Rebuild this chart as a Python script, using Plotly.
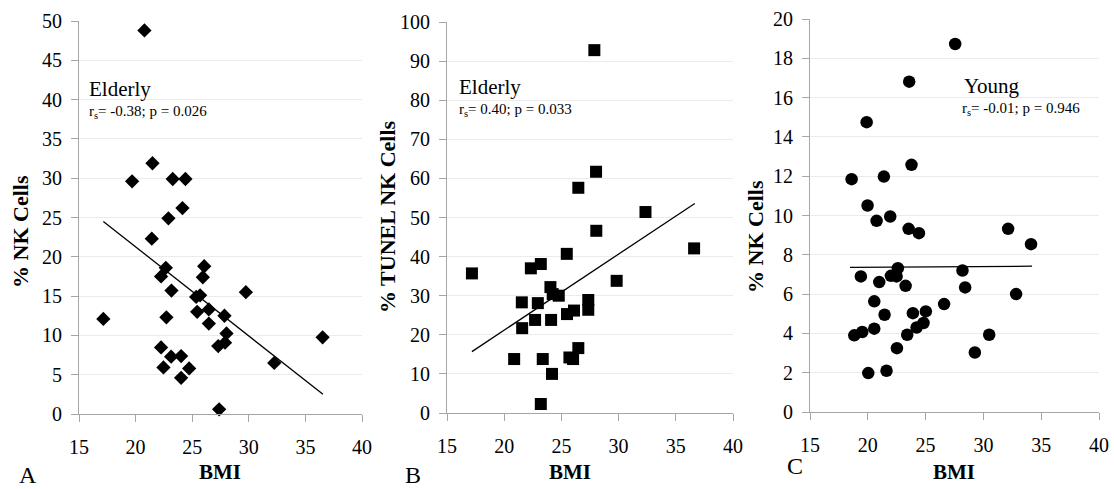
import plotly.graph_objects as go

W, H = 1114, 489

# ---------------- data ----------------
# Panel A: Elderly, % NK cells vs BMI
a_bmi = [20.78, 21.49, 19.69, 23.28, 24.40, 24.14, 22.90, 21.43, 22.67, 22.25,
         26.06, 25.94, 23.17, 29.74, 25.35, 25.70, 25.44, 26.47, 17.15, 22.72,
         27.85, 26.47, 28.03, 27.90, 27.30, 36.52, 22.25, 23.14, 24.02, 22.46,
         24.73, 24.02, 32.25, 27.38]
a_nk = [48.8, 31.9, 29.6, 29.9, 29.9, 26.2, 24.9, 22.3, 18.6, 17.5,
        18.8, 17.4, 15.7, 15.5, 14.9, 15.1, 13.0, 13.3, 12.1, 12.3,
        12.5, 11.5, 10.25, 9.07, 8.64, 9.75, 8.47, 7.29, 7.37, 5.93,
        5.8, 4.6, 6.5, 0.6]
a_trend_x = [17.15, 36.55]
a_trend_y = [24.5, 2.5]

# Panel B: Elderly, % TUNEL NK cells vs BMI
b_bmi = [27.88, 28.03, 26.48, 32.35, 28.05, 36.60, 25.47, 23.20, 22.33, 17.18,
         29.83, 24.04, 24.24, 24.77, 27.35, 21.54, 22.94, 27.35, 26.10, 25.49,
         22.70, 24.10, 21.57, 26.48, 25.70, 26.02, 20.87, 23.37, 24.18, 23.20]
b_tunel = [92.8, 61.7, 57.6, 51.4, 46.6, 42.1, 40.7, 38.1, 37.0, 35.7,
           33.8, 32.2, 30.4, 30.0, 28.9, 28.3, 28.1, 26.4, 26.2, 25.3,
           23.8, 23.8, 21.7, 16.6, 14.2, 13.8, 13.8, 13.8, 10.0, 2.3]
b_trend_x = [17.18, 36.66]
b_trend_y = [15.7, 53.6]

# Panel C: Young, % NK cells vs BMI
c_bmi = [27.56, 23.58, 19.90, 23.78, 18.60, 21.39, 19.98, 21.94, 20.76, 23.53,
         24.42, 32.14, 34.12, 22.60, 28.19, 19.40, 20.99, 22.00, 22.49, 23.27,
         28.42, 32.83, 20.56, 26.60, 25.02, 23.90, 21.45, 24.82, 24.22, 18.83,
         19.52, 20.56, 23.41, 30.50, 22.52, 29.26, 20.04, 21.62]
c_nk = [18.73, 16.81, 14.75, 12.58, 11.85, 11.98, 10.51, 9.95, 9.73, 9.32,
        9.10, 9.32, 8.54, 7.32, 7.20, 6.90, 6.61, 6.93, 6.90, 6.42,
        6.34, 6.00, 5.63, 5.49, 5.12, 5.03, 4.95, 4.53, 4.30, 3.90,
        4.07, 4.24, 3.93, 3.93, 3.25, 3.03, 1.98, 2.10]
c_trend_x = [18.46, 34.21]
c_trend_y = [7.36, 7.42]

x_ticks = [15, 20, 25, 30, 35, 40]
panel_letters = ["A", "B", "C"]
groups = ["Elderly", "Elderly", "Young"]
stats = ["r<sub>s</sub>= -0.38; p = 0.026",
         "r<sub>s</sub>= 0.40; p = 0.033",
         "r<sub>s</sub>= -0.01; p = 0.946"]
y_titles = ["% NK Cells", "% TUNEL NK Cells", "% NK Cells"]
x_title = "BMI"

# ---------------- layout helpers ----------------
FONT = "Liberation Serif"
AXIS_COLOR = "#a6a6a6"
GRID_COLOR = "#ebebeb"


def px(x):
    return x / W


def py(y):
    return 1 - y / H


fig = go.Figure()

panels = [
    dict(x=a_bmi, y=a_nk, tx=a_trend_x, ty=a_trend_y, symbol="diamond", size=11,
         xd=(79, 362), yd=(414, 21), yr=[0, 50], dt=5),
    dict(x=b_bmi, y=b_tunel, tx=b_trend_x, ty=b_trend_y, symbol="square", size=12,
         xd=(447, 733), yd=(413, 22), yr=[0, 100], dt=10),
    dict(x=c_bmi, y=c_nk, tx=c_trend_x, ty=c_trend_y, symbol="circle", size=12.5,
         xd=(810, 1099), yd=(412, 19), yr=[0, 20], dt=2),
]

for i, p in enumerate(panels):
    sfx = "" if i == 0 else str(i + 1)
    fig.add_trace(go.Scatter(
        x=p["tx"], y=p["ty"], mode="lines",
        line=dict(color="black", width=1.3),
        xaxis="x" + sfx, yaxis="y" + sfx, showlegend=False, hoverinfo="skip"))
    fig.add_trace(go.Scatter(
        x=p["x"], y=p["y"], mode="markers",
        marker=dict(symbol=p["symbol"], size=p["size"], color="black",
                    line=dict(width=0)),
        xaxis="x" + sfx, yaxis="y" + sfx, showlegend=False, cliponaxis=False))

    common = dict(showline=True, linecolor=AXIS_COLOR, linewidth=1,
                  ticks="outside", tickcolor=AXIS_COLOR, ticklen=7, tickwidth=1,
                  zeroline=False, automargin=False,
                  tickfont=dict(family=FONT, size=20, color="black"))
    fig.layout["xaxis" + sfx] = dict(
        domain=[px(p["xd"][0]), px(p["xd"][1])], range=[15, 40],
        tickvals=x_ticks, showgrid=False, anchor="y" + sfx,
        ticklabelstandoff=8, **common)
    fig.layout["yaxis" + sfx] = dict(
        domain=[py(p["yd"][0]), py(p["yd"][1])], range=p["yr"],
        dtick=p["dt"], tick0=0, showgrid=True, gridcolor=GRID_COLOR,
        gridwidth=1, anchor="x" + sfx, ticklabelstandoff=5, **common)

# ---------------- annotations ----------------
ann = []
group_pos = [(87, 89), (457, 87), (962, 86)]
stat_pos = [(87, 112), (457, 110), (960, 109)]
letter_pos = [(17, 475), (403, 475), (785, 466)]
bmi_pos = [(220, 472), (570, 472), (954, 472)]
ytitle_pos = [(20, 232), (388, 217), (755, 237)]

for i in range(3):
    ann.append(dict(text=groups[i], x=px(group_pos[i][0]), y=py(group_pos[i][1]),
                    xref="paper", yref="paper", xanchor="left", yanchor="middle",
                    showarrow=False, font=dict(family=FONT, size=21, color="black")))
    ann.append(dict(text=stats[i], x=px(stat_pos[i][0]), y=py(stat_pos[i][1]),
                    xref="paper", yref="paper", xanchor="left", yanchor="middle",
                    showarrow=False, font=dict(family=FONT, size=15, color="black")))
    ann.append(dict(text=panel_letters[i], x=px(letter_pos[i][0]), y=py(letter_pos[i][1]),
                    xref="paper", yref="paper", xanchor="left", yanchor="middle",
                    showarrow=False, font=dict(family=FONT, size=24, color="black")))
    ann.append(dict(text="<b>" + x_title + "</b>", x=px(bmi_pos[i][0]), y=py(bmi_pos[i][1]),
                    xref="paper", yref="paper", xanchor="center", yanchor="middle",
                    showarrow=False, font=dict(family=FONT, size=21, color="black")))
    ann.append(dict(text="<b>" + y_titles[i] + "</b>", x=px(ytitle_pos[i][0]),
                    y=py(ytitle_pos[i][1]), xref="paper", yref="paper",
                    xanchor="center", yanchor="middle", textangle=-90,
                    showarrow=False, font=dict(family=FONT, size=22, color="black")))

fig.update_layout(
    template="none",
    width=W, height=H, autosize=False,
    margin=dict(l=0, r=0, t=0, b=0, pad=0),
    paper_bgcolor="white", plot_bgcolor="white",
    annotations=ann, showlegend=False,
    font=dict(family=FONT, color="black"),
)

fig.write_html(
    "out.html",
    config={"displayModeBar": False},
    post_script="document.body.style.margin='0';document.body.style.overflow='hidden';",
)
